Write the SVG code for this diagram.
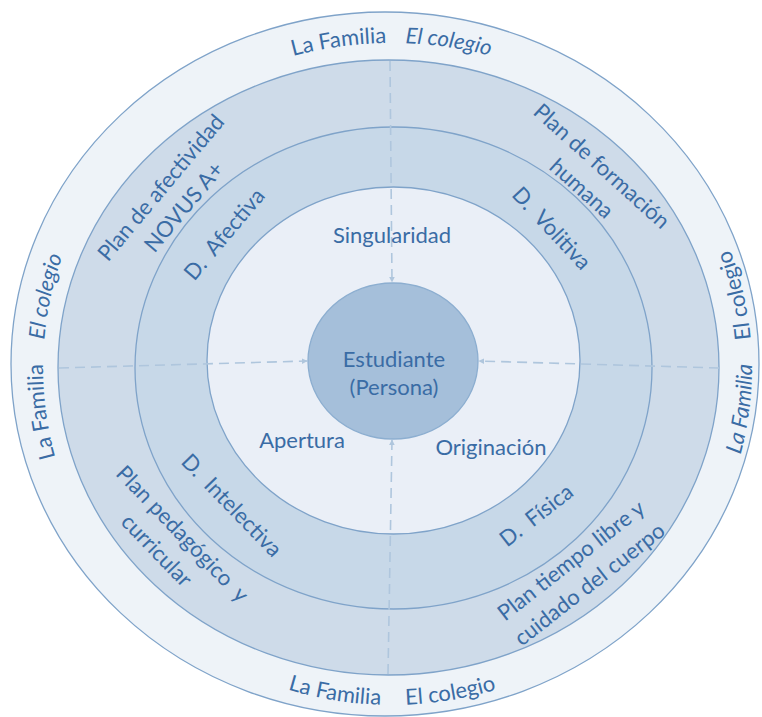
<svg xmlns="http://www.w3.org/2000/svg" width="762" height="717" viewBox="0 0 762 717">
<style>
.t{font-family:Lato,"Open Sans","Liberation Sans",sans-serif;font-size:22px;fill:#3A6CA5;white-space:pre}
.c{text-anchor:middle}
.i{font-style:italic}
.ring{stroke:#7FA3C9;stroke-width:1.3}
.dash{stroke:#AFC6DD;stroke-width:1.6;stroke-dasharray:10 6;fill:none}
</style>
<defs>
<marker id="ah" viewBox="0 0 10 10" refX="9" refY="5" markerWidth="6" markerHeight="6" orient="auto" markerUnits="userSpaceOnUse">
<path d="M0,0 L10,5 L0,10 z" fill="#AFC6DD"/>
</marker>
<path id="pTop" d="M40,368 A352,325 0 0 1 744,368"/>
<path id="pBot" d="M42,368 A350,337 0 0 0 742,368"/>
<path id="pLeft" d="M87.6,534.3 A349,340 0 0 1 105.1,174.5"/>
<path id="pRight" d="M705.9,536.8 A360,345 0 0 0 688,171.7"/>
</defs>
<rect width="762" height="717" fill="#FFFFFF"/>

<g id="environment">
<ellipse class="ring" cx="385" cy="364" rx="374" ry="352" fill="#EEF3F8"/>
<text class="t"><textPath href="#pTop" startOffset="526" text-anchor="end">La Familia</textPath></text>
<text class="t i"><textPath href="#pTop" startOffset="545">El colegio</textPath></text>
<text class="t"><textPath href="#pBot" startOffset="528" text-anchor="end">La Familia</textPath></text>
<text class="t"><textPath href="#pBot" startOffset="553">El colegio</textPath></text>
<text class="t"><textPath href="#pLeft" startOffset="46.8%" text-anchor="end">La Familia</textPath></text>
<text class="t i"><textPath href="#pLeft" startOffset="53.2%">El colegio</textPath></text>
<text class="t i"><textPath href="#pRight" startOffset="46.8%" text-anchor="end">La Familia</textPath></text>
<text class="t"><textPath href="#pRight" startOffset="53.2%">El colegio</textPath></text>
</g>

<g id="plans">
<ellipse class="ring" cx="388.5" cy="367.5" rx="330.5" ry="307.5" fill="#CEDBE9"/>
</g>

<g id="dimensions">
<ellipse class="ring" cx="393.5" cy="368" rx="258.5" ry="241" fill="#C7D8E8"/>
</g>

<g id="inner">
<ellipse class="ring" cx="393.5" cy="360.5" rx="186.5" ry="173.5" fill="#EAEFF7"/>
</g>

<g id="connectors">
<line class="dash" x1="390" y1="61" x2="392" y2="282" marker-end="url(#ah)"/>
<line class="dash" x1="388" y1="674" x2="392" y2="440" marker-end="url(#ah)"/>
<line class="dash" x1="59" y1="368" x2="307" y2="361" marker-end="url(#ah)"/>
<line class="dash" x1="719" y1="368" x2="479" y2="361" marker-end="url(#ah)"/>
</g>

<g id="estudiante">
<ellipse cx="393" cy="361" rx="85" ry="78" fill="#A5BFDA" stroke="#8CAED0" stroke-width="1.3"/>
<text class="t c" x="394" y="367">Estudiante</text>
<text class="t c" x="394" y="395">(Persona)</text>
</g>

<g id="label-singularidad"><text class="t c" x="392" y="243">Singularidad</text></g>
<g id="label-apertura"><text class="t c" x="302" y="448">Apertura</text></g>
<g id="label-originacion"><text class="t c" x="491" y="455">Originación</text></g>

<g id="d-afectiva"><text class="t c" transform="translate(224,234) rotate(-50)" y="8">D.  Afectiva</text></g>
<g id="d-volitiva"><text class="t c" transform="translate(552,228) rotate(47)" y="8">D.  Volitiva</text></g>
<g id="d-intelectiva"><text class="t c" transform="translate(232,505) rotate(46)" y="8">D.  Intelectiva</text></g>
<g id="d-fisica"><text class="t c" transform="translate(536,515) rotate(-38)" y="8">D.  Física</text></g>

<g id="plan-afectividad"><text class="t c" transform="translate(172,197) rotate(-50)"><tspan x="0" y="-7">Plan de afectividad</tspan><tspan x="0" y="23">NOVUS A+</tspan></text></g>
<g id="plan-formacion"><text class="t c" transform="translate(592,177) rotate(42)"><tspan x="0" y="-7">Plan de formación</tspan><tspan x="0" y="23">humana</tspan></text></g>
<g id="plan-pedagogico"><text class="t c" transform="translate(172,544) rotate(46)"><tspan x="0" y="-7">Plan pedagógico  y</tspan><tspan x="-6" y="23">curricular</tspan></text></g>
<g id="plan-tiempo"><text class="t c" transform="translate(580,572) rotate(-38)"><tspan x="0" y="-7">Plan tiempo libre y</tspan><tspan x="0" y="23">cuidado del cuerpo</tspan></text></g>
</svg>
